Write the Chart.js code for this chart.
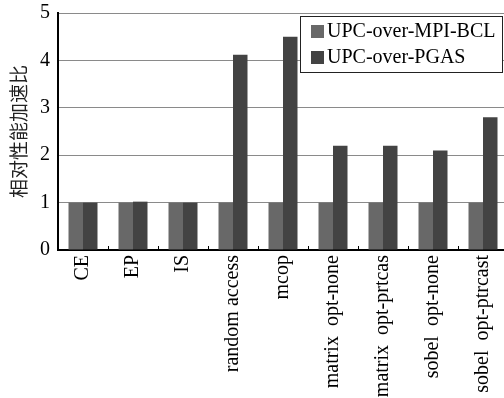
<!DOCTYPE html>
<html>
<head>
<meta charset="utf-8">
<script src="https://cdn.jsdelivr.net/npm/chart.js@4.4.0/dist/chart.umd.min.js"></script>
<style>
  html, body { margin: 0; padding: 0; overflow: hidden; background: #fff; }
</style>
</head>
<body>
<canvas id="myChart" width="512" height="398"></canvas>
<script>
var categories = ['CE', 'EP', 'IS', 'random access', 'mcop', 'matrix  opt-none', 'matrix  opt-prtcas', 'sobel  opt-none', 'sobel  opt-ptrcast'];
var mpiBcl = [1, 1, 1, 1, 1, 1, 1, 1, 1];
var pgas = [1, 1.02, 1, 4.12, 4.5, 2.2, 2.2, 2.1, 2.8];
var yTicks = [0, 1, 2, 3, 4, 5];
var seriesNames = ['UPC-over-MPI-BCL', 'UPC-over-PGAS'];
var seriesColors = ['#686868', '#434343'];

var serif = "'Liberation Serif', 'Times New Roman', serif";

// small ticks pointing up into the plot, at category boundaries
var innerTicks = {
    id: 'innerTicks',
    afterDatasetsDraw: function(chart){
        var x = chart.scales.x;
        var ctx = chart.ctx;
        var bottom = chart.chartArea.bottom;
        var half = (x.getPixelForValue(1) - x.getPixelForValue(0)) / 2;
        ctx.save();
        ctx.strokeStyle = '#000';
        ctx.lineWidth = 1;
        for (var i = 1; i < categories.length; i++){
            var px = Math.round(x.getPixelForValue(i) - half) + 0.5;
            ctx.beginPath();
            ctx.moveTo(px, bottom);
            ctx.lineTo(px, bottom - 4);
            ctx.stroke();
        }
        ctx.restore();
    }
};

// legend box inside the plot, top right
var boxLegend = {
    id: 'boxLegend',
    afterDraw: function(chart){
        var ctx = chart.ctx;
        var bx = 300, by = 16, bw = 202, bh = 56;
        ctx.save();
        ctx.fillStyle = '#fff';
        ctx.fillRect(bx, by, bw, bh);
        ctx.strokeStyle = '#222';
        ctx.lineWidth = 1;
        ctx.strokeRect(bx + 0.5, by + 0.5, bw, bh);
        ctx.font = '20px ' + serif;
        ctx.textBaseline = 'middle';
        chart.data.datasets.forEach(function(ds, i){
            var cy = by + 15 + i * 26;
            ctx.fillStyle = ds.backgroundColor;
            ctx.fillRect(bx + 11, cy - 6, 13, 13);
            ctx.fillStyle = '#000';
            ctx.fillText(ds.label, bx + 27, cy + 1);
        });
        ctx.restore();
    }
};

function Drawgraphonfront(){
    var ctx = document.getElementById('myChart').getContext('2d');
    new Chart(ctx, {
        type: 'bar',
        data: {
            labels: categories,
            datasets: [
                { label: seriesNames[0], data: mpiBcl, backgroundColor: seriesColors[0], borderWidth: 0 },
                { label: seriesNames[1], data: pgas, backgroundColor: seriesColors[1], borderWidth: 0 }
            ]
        },
        options: {
            responsive: false,
            animation: false,
            layout: { padding: { top: 13, right: 4, left: 0, bottom: 0 } },
            datasets: { bar: { categoryPercentage: 0.58, barPercentage: 1.0 } },
            scales: {
                x: {
                    grid: { display: false, drawTicks: false },
                    border: { color: '#000', width: 2 },
                    ticks: {
                        color: '#000',
                        font: { family: serif, size: 20 },
                        minRotation: 90,
                        maxRotation: 90,
                        autoSkip: false,
                        padding: 5
                    },
                    afterFit: function(scale){
                        scale.height = 148;
                        scale.paddingLeft = 0;
                        scale.paddingRight = 0;
                    }
                },
                y: {
                    min: 0,
                    max: 5,
                    afterBuildTicks: function(scale){
                        scale.ticks = yTicks.map(function(v){ return { value: v }; });
                    },
                    grid: { color: '#8a8a8a', lineWidth: 1, drawTicks: false },
                    border: { color: '#000', width: 2 },
                    ticks: {
                        color: '#000',
                        font: { family: serif, size: 20 },
                        padding: 8
                    },
                    title: {
                        display: true,
                        text: '相对性能加速比',
                        color: '#222',
                        font: { family: "'Noto Sans CJK SC', sans-serif", size: 19 },
                        padding: { top: 7, bottom: 0 }
                    },
                    afterFit: function(scale){
                        scale.width = 58;
                        scale.paddingTop = 0;
                        scale.paddingBottom = 0;
                    }
                }
            },
            plugins: {
                legend: { display: false },
                tooltip: { enabled: false }
            }
        },
        plugins: [innerTicks, boxLegend]
    });
}

document.addEventListener('readystatechange', event => {
    if (event.target.readyState === "complete") {
        Drawgraphonfront();
    }
});
</script>
</body>
</html>
